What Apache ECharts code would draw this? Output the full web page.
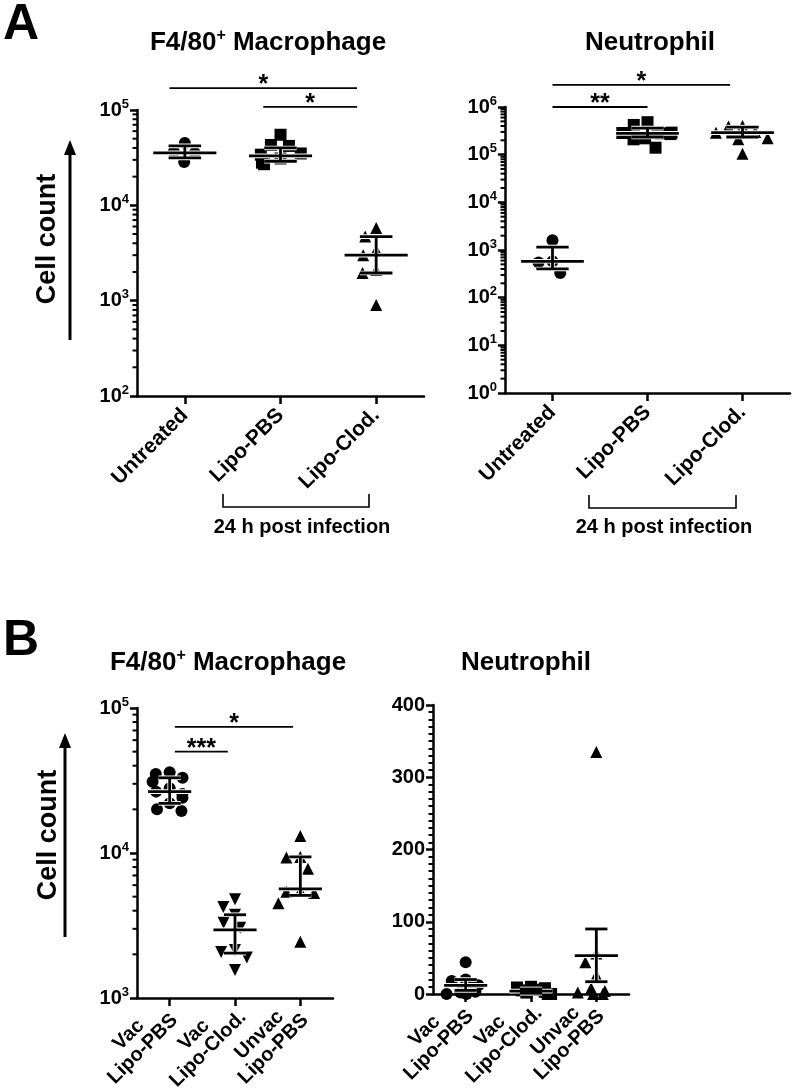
<!DOCTYPE html>
<html><head><meta charset="utf-8">
<script src="https://cdn.jsdelivr.net/npm/echarts@6/dist/echarts.min.js"></script>
<style>html,body{margin:0;padding:0;background:#fff}#c{width:793px;height:1092px}</style>
</head><body><div id="c"></div>
<script>
// ---------- DATA ----------
const aCats = ['Untreated', 'Lipo-PBS', 'Lipo-Clod.'];
const bCats = ['Vac\nLipo-PBS', 'Vac\nLipo-Clod.', 'Unvac\nLipo-PBS'];

// Panel A – F4/80+ macrophage
const aMacUntreated = [45000, 36500, 35500, 28500];
const aMacLipoPBS = [55000, 43000, 42000, 35000, 34000, 31000, 28000, 27000];
const aMacLipoClod = [5800, 4700, 3400, 3000, 2100, 1950, 900];
const aMacCenter = [35500, 33000, 3000];
const aMacLow = [31500, 29000, 1950];
const aMacHigh = [42000, 40000, 4700];

// Panel A – neutrophil
const aNeuUntreated = [1600, 580, 550, 330];
const aNeuLipoPBS = [480000, 420000, 300000, 290000, 285000, 280000, 270000, 220000, 210000, 140000];
const aNeuLipoClod = [400000, 390000, 300000, 290000, 220000, 210000, 105000];
const aNeuCenter = [580, 280000, 290000];
const aNeuLow = [400, 235000, 235000];
const aNeuHigh = [1150, 360000, 380000];

// Panel B – F4/80+ macrophage
const bMacVacPBS = [36000, 35000, 33000, 31000, 28000, 26500, 25500, 24000, 22000, 20000, 19500];
const bMacVacClod = [4800, 4250, 3750, 3300, 3050, 2140, 2080, 1900, 1560];
const bMacUnvacPBS = [13100, 9400, 9300, 7800, 5500, 5400, 5300, 4500, 2440];
const bMacCenter = [26500, 2950, 5650];
const bMacLow = [22000, 2040, 5100];
const bMacHigh = [33000, 3750, 9400];

// Panel B – neutrophil
const bNeuVacPBS = [44, 20, 18, 12, 10, 8, 5, 3, 2, 0, 0];
const bNeuVacClod = [10, 9, 8, 6, 5, 3, 2, 0, 0];
const bNeuUnvacPBS = [335, 56, 44, 26, 8, 4, 2, 0, 0];
const bNeuCenter = [12, 4, 53];
const bNeuLow = [5, 1, 17];
const bNeuHigh = [20, 7, 90];

// Tick labels (exponents of log axes, linear ticks)
const aMacTickExp = [2, 3, 4, 5];
const aNeuTickExp = [0, 1, 2, 3, 4, 5, 6];
const bMacTickExp = [3, 4, 5];
const bNeuTicks = [0, 100, 200, 300, 400];
const minorMultipliers = [2, 3, 4, 5, 6, 7, 8, 9];

// Significance comparisons: [from category, to category, level, label]
const aMacSig = [[0, 2, 170000, '*'], [1, 2, 108000, '*']];
const aNeuSig = [[0, 2, 2900000, '*'], [0, 1, 1000000, '**']];
const bMacSig = [[0, 2, 74000, '*'], [0, 1, 50000, '***']];

// ---------- STYLE ----------
const FONT = '"Liberation Sans", Arial, Helvetica, sans-serif';
const BLACK = '#000';
// fractional offsets of significance bar ends (in band widths)
const sigOffsets = {
  aMac: [[-0.16, -0.2], [-0.18, -0.2]],
  aNeu: [[0, -0.13], [0, 0]],
  bMac: [[0.08, -0.11], [0.08, -0.11]]
};

const chart = echarts.init(document.getElementById('c'), null, {renderer: 'canvas'});

const richY = {
  b: {fontSize: 20, fontWeight: 'bold', fontFamily: FONT, color: BLACK},
  s: {fontSize: 13, fontWeight: 'bold', fontFamily: FONT, color: BLACK, padding: [0, 0, 12, 0]}
};
function logLabel(v) { return '{b|10}{s|' + Math.round(Math.log10(v)) + '}'; }

function grid(left, top, width, height) {
  return {left, top, width, height, outerBoundsMode: 'none', containLabel: false};
}

function xAxis(gi, cats, jitter, twoLine) {
  const lab = twoLine ? {
    rotate: 45, interval: 0, margin: 10,
    formatter: v => v.split('\n').map(s => '{c|' + s + '}').join('\n'),
    rich: {c: {width: 96, align: 'center', fontSize: 20, lineHeight: 20, fontWeight: 'bold', fontFamily: FONT, color: BLACK}}
  } : {
    rotate: 45, interval: 0, margin: 16, fontSize: 21, fontWeight: 'bold', fontFamily: FONT, color: BLACK
  };
  return {
    type: 'category', gridIndex: gi, data: cats, boundaryGap: true,
    jitter: jitter, jitterOverlap: false, jitterMargin: 2,
    axisLine: {show: true, onZero: false, lineStyle: {color: BLACK, width: 2.5}},
    axisTick: {show: true, alignWithLabel: true, length: 8, lineStyle: {color: BLACK, width: 2.5}},
    axisLabel: lab, splitLine: {show: false}
  };
}

function yLog(gi, exps) {
  return {
    type: 'log', logBase: 10, gridIndex: gi,
    min: Math.pow(10, exps[0]), max: Math.pow(10, exps[exps.length - 1]),
    axisLine: {show: true, lineStyle: {color: BLACK, width: 2.5}},
    axisTick: {show: true, length: 7, lineStyle: {color: BLACK, width: 2.5}},
    axisLabel: {formatter: logLabel, rich: richY, margin: 8},
    splitLine: {show: false}, minorTick: {show: false}
  };
}

function minorTickSeries(gi, exps) {
  const data = [];
  for (let i = 0; i < exps.length - 1; i++) {
    minorMultipliers.forEach(m => data.push([0, m * Math.pow(10, exps[i])]));
  }
  return {
    type: 'custom', xAxisIndex: gi, yAxisIndex: gi, clip: false, silent: true, z: 5,
    encode: {x: 0, y: 1}, data: data,
    renderItem(params, api) {
      const p = api.coord([0, api.value(1)]);
      const x0 = params.coordSys.x;
      return {type: 'line', shape: {x1: x0 - 4.5, y1: p[1], x2: x0, y2: p[1]},
        style: {stroke: BLACK, lineWidth: 2}};
    }
  };
}

function scatter(gi, idx, vals, symbol, size, rotate) {
  return {
    type: 'scatter', xAxisIndex: gi, yAxisIndex: gi, z: 2,
    symbol: symbol, symbolSize: size, symbolRotate: rotate || 0,
    itemStyle: {color: BLACK, opacity: 1},
    data: vals.map(v => [idx, v]), silent: true
  };
}

function errorSeries(gi, center, low, high) {
  return {
    type: 'custom', xAxisIndex: gi, yAxisIndex: gi, z: 10, clip: false, silent: true,
    encode: {x: 0, y: [1, 2, 3]},
    data: center.map((c, i) => [i, c, low[i], high[i]]),
    renderItem(params, api) {
      const band = api.size([1, 0])[0];
      const x = api.value(0);
      const pc = api.coord([x, api.value(1)]);
      const pl = api.coord([x, api.value(2)]);
      const ph = api.coord([x, api.value(3)]);
      const hw = band * 0.33, cw = band * 0.17;
      const segs = [
        [pc[0] - hw, pc[1], pc[0] + hw, pc[1]],
        [pl[0], pl[1], ph[0], ph[1]],
        [pl[0] - cw, pl[1], pl[0] + cw, pl[1]],
        [ph[0] - cw, ph[1], ph[0] + cw, ph[1]]
      ];
      const children = [];
      segs.forEach(s => children.push({type: 'line', shape: {x1: s[0], y1: s[1], x2: s[2], y2: s[3]},
        style: {stroke: '#fff', lineWidth: 4.6}}));
      segs.forEach(s => children.push({type: 'line', shape: {x1: s[0], y1: s[1], x2: s[2], y2: s[3]},
        style: {stroke: BLACK, lineWidth: 2.8}}));
      return {type: 'group', children};
    }
  };
}

function sigSeries(gi, sig, offs) {
  return {
    type: 'custom', xAxisIndex: gi, yAxisIndex: gi, z: 10, clip: false, silent: true,
    encode: {x: [0, 1], y: 2},
    data: sig.map((s, k) => [s[0], s[1], s[2], k]),
    renderItem(params, api) {
      const band = api.size([1, 0])[0];
      const k = api.value(3);
      const p1 = api.coord([api.value(0), api.value(2)]);
      const p2 = api.coord([api.value(1), api.value(2)]);
      const x1 = p1[0] + offs[k][0] * band, x2 = p2[0] + offs[k][1] * band;
      return {type: 'group', children: [
        {type: 'line', shape: {x1: x1, y1: p1[1], x2: x2, y2: p2[1]}, style: {stroke: BLACK, lineWidth: 1.8}},
        {type: 'text', x: (x1 + x2) / 2, y: p1[1] - 3,
          style: {text: sig[k][3], fill: BLACK, font: 'bold 25px ' + FONT, align: 'center', verticalAlign: 'middle'}}
      ]};
    }
  };
}

function titleText(cx, cy, sup) {
  const base = {fontSize: 26, fontWeight: 'bold', fontFamily: FONT, color: BLACK};
  const rich = {a: base, s: {fontSize: 16, fontWeight: 'bold', fontFamily: FONT, color: BLACK, padding: [0, 0, 14, 0]}};
  return {type: 'text', x: cx, y: cy, style: {
    text: sup ? '{a|F4/80}{s|+}{a| Macrophage}' : '{a|Neutrophil}',
    rich: rich, align: 'center', verticalAlign: 'middle', fill: BLACK}};
}

function cellCount(cx, cy, ax, yTop, yBot) {
  return [
    {type: 'text', x: cx, y: cy, rotation: Math.PI / 2,
      style: {text: 'Cell count', font: 'bold 27px ' + FONT, fill: BLACK, align: 'center', verticalAlign: 'middle'}},
    {type: 'line', shape: {x1: ax, y1: yBot, x2: ax, y2: yTop + 12}, style: {stroke: BLACK, lineWidth: 3}},
    {type: 'polygon', shape: {points: [[ax, yTop], [ax - 6, yTop + 15], [ax + 6, yTop + 15]]}, style: {fill: BLACK}}
  ];
}

function bracket(x1, x2, y, tx, ty) {
  return [
    {type: 'polyline', shape: {points: [[x1, y - 13], [x1, y], [x2, y], [x2, y - 13]]}, style: {stroke: BLACK, lineWidth: 1.6, fill: null}},
    {type: 'text', x: tx, y: ty, style: {text: '24 h post infection', font: 'bold 20px ' + FONT, fill: BLACK, align: 'center', verticalAlign: 'middle'}}
  ];
}

const option = {
  animation: false,
  backgroundColor: '#fff',
  grid: [
    grid(137, 110, 287, 286),
    grid(505, 107, 285, 286),
    grid(137, 708, 196, 290),
    grid(433, 705, 196, 289)
  ],
  xAxis: [
    xAxis(0, aCats, 56, false),
    xAxis(1, aCats, 60, false),
    xAxis(2, bCats, 44, true),
    xAxis(3, bCats, 42, true)
  ],
  yAxis: [
    yLog(0, aMacTickExp),
    yLog(1, aNeuTickExp),
    yLog(2, bMacTickExp),
    {
      type: 'value', gridIndex: 3, min: bNeuTicks[0], max: bNeuTicks[bNeuTicks.length - 1], interval: 100,
      axisLine: {show: true, lineStyle: {color: BLACK, width: 2.5}},
      axisTick: {show: true, length: 7, lineStyle: {color: BLACK, width: 2.5}},
      minorTick: {show: true, splitNumber: 10, length: 4.5, lineStyle: {color: BLACK, width: 2}},
      axisLabel: {fontSize: 20, fontWeight: 'bold', fontFamily: FONT, color: BLACK, margin: 8},
      splitLine: {show: false}, minorSplitLine: {show: false}
    }
  ],
  series: [
    minorTickSeries(0, aMacTickExp),
    minorTickSeries(1, aNeuTickExp),
    minorTickSeries(2, bMacTickExp),

    scatter(0, 0, aMacUntreated, 'circle', 12),
    scatter(0, 1, aMacLipoPBS, 'rect', 12),
    scatter(0, 2, aMacLipoClod, 'triangle', 12),
    errorSeries(0, aMacCenter, aMacLow, aMacHigh),
    sigSeries(0, aMacSig, sigOffsets.aMac),

    scatter(1, 0, aNeuUntreated, 'circle', 12),
    scatter(1, 1, aNeuLipoPBS, 'rect', 12),
    scatter(1, 2, aNeuLipoClod, 'triangle', 12),
    errorSeries(1, aNeuCenter, aNeuLow, aNeuHigh),
    sigSeries(1, aNeuSig, sigOffsets.aNeu),

    scatter(2, 0, bMacVacPBS, 'circle', 12),
    scatter(2, 1, bMacVacClod, 'triangle', 12, 180),
    scatter(2, 2, bMacUnvacPBS, 'triangle', 12),
    errorSeries(2, bMacCenter, bMacLow, bMacHigh),
    sigSeries(2, bMacSig, sigOffsets.bMac),

    scatter(3, 0, bNeuVacPBS, 'circle', 12),
    scatter(3, 1, bNeuVacClod, 'rect', 12),
    scatter(3, 2, bNeuUnvacPBS, 'triangle', 12),
    errorSeries(3, bNeuCenter, bNeuLow, bNeuHigh)
  ],
  graphic: [].concat(
    [
      {type: 'text', x: 3, y: 0, style: {text: 'A', font: 'bold 50px ' + FONT, fill: BLACK, align: 'left', verticalAlign: 'top'}},
      {type: 'text', x: 3, y: 616, style: {text: 'B', font: 'bold 50px ' + FONT, fill: BLACK, align: 'left', verticalAlign: 'top'}},
      titleText(268, 43, true),
      titleText(650, 43, false),
      titleText(228, 663, true),
      titleText(526, 663, false)
    ],
    cellCount(48, 239, 70, 140, 340),
    cellCount(49, 835, 65, 733, 937),
    bracket(223, 369, 507, 302, 527),
    bracket(589, 736, 508, 664, 527)
  )
};
chart.setOption(option);
</script>
</body></html>
